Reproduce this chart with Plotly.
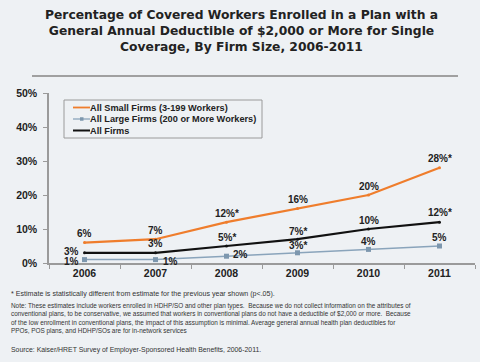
import plotly.graph_objects as go

# ---------------- data ----------------
years = ["2006", "2007", "2008", "2009", "2010", "2011"]
small_firms = [6, 7, 12, 16, 20, 28]
large_firms = [1, 1, 2, 3, 4, 5]
all_firms = [3, 3, 5, 7, 10, 12]
small_labels = ["6%", "7%", "12%*", "16%", "20%", "28%*"]
large_labels = ["1%", "1%", "2%", "3%*", "4%", "5%"]
all_labels = ["3%", "3%", "5%*", "7%*", "10%", "12%*"]
series_names = ["All Small Firms (3-199 Workers)",
                "All Large Firms (200 or More Workers)",
                "All Firms"]
y_tick_values = [0, 10, 20, 30, 40, 50]
y_tick_labels = ["0%", "10%", "20%", "30%", "40%", "50%"]

title_text = ("Percentage of Covered Workers Enrolled in a Plan with a<br>"
              "General Annual Deductible of $2,000 or More for Single<br>"
              "Coverage, By Firm Size, 2006-2011")
footnote1 = "* Estimate is statistically different from estimate for the previous year shown (p<.05)."
note_text = ("Note: These estimates include workers enrolled in HDHP/SO and other plan types.  Because we do not collect information on the attributes of<br>"
             "conventional plans, to be conservative, we assumed that workers in conventional plans do not have a deductible of $2,000 or more.  Because<br>"
             "of the low enrollment in conventional plans, the impact of this assumption is minimal. Average general annual health plan deductibles for<br>"
             "PPOs, POS plans, and HDHP/SOs are for in-network services")
source_text = "Source: Kaiser/HRET Survey of Employer-Sponsored Health Benefits, 2006-2011."

# ---------------- style ----------------
W, H = 480, 362
L, R, T, B = 49, 5, 93, 99
PW, PH = W - L - R, H - T - B
BG = "#eef1f4"
FONT = "Arial, Liberation Sans"
TITLE_FONT = "DejaVu Sans"
ORANGE = "#ef7d2c"
BLUE = "#8aa4bb"
BLUE_MARK = "#7d97ae"
BLACK = "#111111"
TXT = "#222222"

def px_x(px):
    return (px - L) / PW

def px_y(py):
    return (H - B - py) / PH

fig = go.Figure()
fig.add_trace(go.Scatter(x=years, y=small_firms, mode="lines+markers", name=series_names[0],
                         line=dict(color=ORANGE, width=2.2), marker=dict(size=3, color=ORANGE)))
fig.add_trace(go.Scatter(x=years, y=large_firms, mode="lines+markers", name=series_names[1],
                         line=dict(color=BLUE, width=1.5), marker=dict(size=5, symbol="square", color=BLUE_MARK)))
fig.add_trace(go.Scatter(x=years, y=all_firms, mode="lines+markers", name=series_names[2],
                         line=dict(color=BLACK, width=2.2), marker=dict(size=3, color=BLACK)))

annotations = []
label_font = dict(family=FONT, size=10, color=TXT, weight="bold")

small_place = [("center", 0, 9)] * 6
all_place = [("right", -6, 1), ("center", 0, 9), ("center", 0, 9),
             ("center", 0, 8), ("center", 0, 9), ("center", 0, 10)]
large_place = [("right", -6, -2), ("left", 7, -1.5), ("left", 6, 2),
               ("center", 0, 7), ("center", 0, 8), ("center", 0, 9)]

for vals, labs, place in [(small_firms, small_labels, small_place),
                          (all_firms, all_labels, all_place),
                          (large_firms, large_labels, large_place)]:
    for i, (yv, lab, (xa, xs, ys)) in enumerate(zip(vals, labs, place)):
        annotations.append(dict(x=i, y=yv, xref="x", yref="y", text=lab, showarrow=False,
                                xanchor=xa, yanchor="middle", xshift=xs, yshift=ys,
                                borderpad=0, borderwidth=0, font=label_font))

# custom legend
shapes = []
leg_x0, leg_x1, leg_y0, leg_y1 = 64, 262, 100, 138
shapes.append(dict(type="rect", xref="paper", yref="paper",
                   x0=px_x(leg_x0), x1=px_x(leg_x1), y0=px_y(leg_y1), y1=px_y(leg_y0),
                   line=dict(color="#9a9a9a", width=1), fillcolor="rgba(0,0,0,0)"))
leg_rows = [107.5, 119, 130.5]
leg_styles = [(ORANGE, 1.8, "circle"), (BLUE, 1.3, "square"), (BLACK, 2, "circle")]
for name, row, (col, lw, sym) in zip(series_names, leg_rows, leg_styles):
    shapes.append(dict(type="line", xref="paper", yref="paper",
                       x0=px_x(73), x1=px_x(90), y0=px_y(row), y1=px_y(row),
                       line=dict(color=col, width=lw)))
    if sym == "square":
        shapes.append(dict(type="rect", xref="paper", yref="paper",
                           x0=px_x(80), x1=px_x(83.5), y0=px_y(row + 1.75), y1=px_y(row - 1.75),
                           line=dict(width=0), fillcolor=BLUE_MARK))
    annotations.append(dict(x=px_x(90), y=px_y(row), xref="paper", yref="paper", text=name,
                            showarrow=False, xanchor="left", yanchor="middle",
                            borderpad=0, borderwidth=0,
                            font=dict(family=FONT, size=9.2, color=TXT, weight="bold")))

# separator line under title
shapes.append(dict(type="line", xref="paper", yref="paper",
                   x0=px_x(32), x1=px_x(458), y0=px_y(76), y1=px_y(76),
                   line=dict(color="#a0a0a0", width=2)))

# title
annotations.append(dict(x=px_x(241), y=px_y(6), xref="paper", yref="paper", text=title_text,
                        showarrow=False, xanchor="center", yanchor="top", align="center",
                        font=dict(family=TITLE_FONT, size=12.3, color=TXT, weight="bold")))

# footnotes
annotations.append(dict(x=px_x(9), y=px_y(294), xref="paper", yref="paper", text=footnote1,
                        showarrow=False, xanchor="left", yanchor="middle", align="left",
                        font=dict(family=FONT, size=7.1, color="#333333")))
annotations.append(dict(x=px_x(9), y=px_y(300), xref="paper", yref="paper", text=note_text,
                        showarrow=False, xanchor="left", yanchor="top", align="left",
                        font=dict(family=FONT, size=6.4, color="#333333")))
annotations.append(dict(x=px_x(9), y=px_y(350), xref="paper", yref="paper", text=source_text,
                        showarrow=False, xanchor="left", yanchor="middle", align="left",
                        font=dict(family=FONT, size=6.9, color="#333333")))

fig.update_layout(
    width=W, height=H,
    margin=dict(l=L, r=R, t=T, b=B),
    paper_bgcolor=BG, plot_bgcolor=BG,
    showlegend=False,
    xaxis=dict(type="category", range=[-0.5, 5.5], showline=True, linecolor="#9a9a9a", linewidth=1.5,
               ticks="outside", tickson="boundaries", ticklen=4, tickcolor="#9a9a9a",
               showgrid=False, zeroline=False,
               tickfont=dict(family=FONT, size=10.5, color=TXT, weight="bold")),
    yaxis=dict(range=[0, 50], tickvals=y_tick_values, ticktext=y_tick_labels,
               showline=True, linecolor="#9a9a9a", linewidth=1.5,
               ticks="outside", ticklen=4, tickcolor="#9a9a9a",
               showgrid=False, zeroline=False, ticklabelstandoff=4,
               tickfont=dict(family=FONT, size=10.5, color=TXT, weight="bold")),
    annotations=annotations,
    shapes=shapes,
)

fig.write_html("out.html", config={"displayModeBar": False},
               post_script="document.body.style.margin='0';")
